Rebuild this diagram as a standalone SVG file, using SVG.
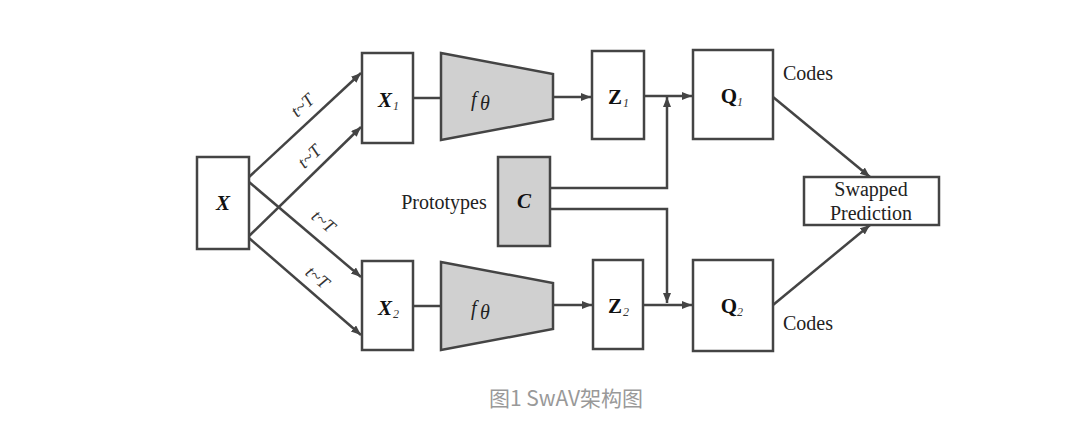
<svg xmlns="http://www.w3.org/2000/svg" width="1078" height="430" viewBox="0 0 1078 430">
<style>
.box{fill:#fff;stroke:#444;stroke-width:2.5}
.gray{fill:#d0d0d0;stroke:#444;stroke-width:2.5}
.ln{fill:none;stroke:#444;stroke-width:2.5}
.t{font-family:"Liberation Serif",serif;fill:#222;font-size:20px}
.m{font-family:"Liberation Serif",serif;fill:#111;font-size:21px;font-weight:bold}
.sub{font-family:"Liberation Serif",serif;fill:#333;font-size:12px;font-style:italic}
.lab{font-family:"Liberation Serif",serif;fill:#333;font-size:18px;font-style:italic}
</style>
<defs>
<marker id="ah" markerUnits="userSpaceOnUse" markerWidth="12" markerHeight="10" refX="10" refY="4" orient="auto">
<path d="M0,0 L10,4 L0,8 Z" fill="#444"/>
</marker>
</defs>
<rect width="1078" height="430" fill="#fff"/>
<g id="connectors">
<line class="ln" x1="249" y1="177" x2="361" y2="73" marker-end="url(#ah)"/>
<line class="ln" x1="249" y1="236" x2="361" y2="127" marker-end="url(#ah)"/>
<line class="ln" x1="249" y1="182" x2="361" y2="277" marker-end="url(#ah)"/>
<line class="ln" x1="249" y1="238" x2="361" y2="335" marker-end="url(#ah)"/>
<line class="ln" x1="413" y1="98" x2="441" y2="98"/>
<line class="ln" x1="553" y1="97" x2="591" y2="97" marker-end="url(#ah)"/>
<line class="ln" x1="644" y1="96" x2="692" y2="96" marker-end="url(#ah)"/>
<polyline class="ln" points="550,188 667,188 667,97" marker-end="url(#ah)"/>
<line class="ln" x1="413" y1="306" x2="441" y2="306"/>
<line class="ln" x1="553" y1="305" x2="592" y2="305" marker-end="url(#ah)"/>
<line class="ln" x1="643" y1="305" x2="692" y2="305" marker-end="url(#ah)"/>
<polyline class="ln" points="550,209 667,209 667,303" marker-end="url(#ah)"/>
<line class="ln" x1="773" y1="97" x2="870" y2="177" marker-end="url(#ah)"/>
<line class="ln" x1="773" y1="305" x2="870" y2="225" marker-end="url(#ah)"/>
<text class="lab" text-anchor="middle" transform="translate(303,106) rotate(-42)" dy="5">t~T</text>
<text class="lab" text-anchor="middle" transform="translate(310,157) rotate(-44)" dy="5">t~T</text>
<text class="lab" text-anchor="middle" transform="translate(323,222) rotate(40)" dy="5">t~T</text>
<text class="lab" text-anchor="middle" transform="translate(317,278) rotate(40)" dy="5">t~T</text>
</g>
<g id="node-x">
<rect class="box" x="197" y="157" width="52" height="92"/>
<text class="m" x="223" y="210" text-anchor="middle" font-style="italic">X</text>
</g>
<g id="node-x1">
<rect class="box" x="362" y="53" width="51" height="90"/>
<text class="m" x="385" y="107" text-anchor="middle" font-style="italic">X</text>
<text class="sub" x="393" y="110">1</text>
</g>
<g id="node-x2">
<rect class="box" x="362" y="261" width="51" height="89"/>
<text class="m" x="385" y="315" text-anchor="middle" font-style="italic">X</text>
<text class="sub" x="393" y="318">2</text>
</g>
<g id="node-f1">
<polygon class="gray" points="441,53 553,74 553,119 441,140"/>
<text class="t" x="471" y="106" font-style="italic" font-size="26" fill="#333">f</text>
<text class="t" x="480" y="110" font-style="italic" font-size="15" fill="#333">θ</text>
</g>
<g id="node-f2">
<polygon class="gray" points="441,262 553,283 553,329 441,350"/>
<text class="t" x="471" y="315" font-style="italic" font-size="26" fill="#333">f</text>
<text class="t" x="480" y="319" font-style="italic" font-size="15" fill="#333">θ</text>
</g>
<g id="node-z1">
<rect class="box" x="592" y="51" width="52" height="88"/>
<text class="m" x="615" y="104" text-anchor="middle">Z</text>
<text class="sub" x="623" y="107">1</text>
</g>
<g id="node-z2">
<rect class="box" x="593" y="260" width="50" height="89"/>
<text class="m" x="615" y="313" text-anchor="middle">Z</text>
<text class="sub" x="623" y="316">2</text>
</g>
<g id="node-q1">
<rect class="box" x="693" y="50" width="80" height="89"/>
<text class="m" x="729" y="103" text-anchor="middle">Q</text>
<text class="sub" x="737" y="106">1</text>
</g>
<g id="node-q2">
<rect class="box" x="693" y="260" width="80" height="91"/>
<text class="m" x="729" y="313" text-anchor="middle">Q</text>
<text class="sub" x="737" y="316">2</text>
</g>
<g id="node-c">
<rect class="gray" x="498" y="157" width="52" height="89"/>
<text class="m" x="524" y="208" text-anchor="middle" font-style="italic">C</text>
<text class="t" x="444" y="209" text-anchor="middle">Prototypes</text>
</g>
<g id="node-swap">
<rect class="box" x="804" y="177" width="135" height="48"/>
<text class="t" x="871" y="196" text-anchor="middle">Swapped</text>
<text class="t" x="871" y="220" text-anchor="middle">Prediction</text>
</g>
<text class="t" x="783" y="80">Codes</text>
<text class="t" x="783" y="330">Codes</text>
<text x="566" y="406" text-anchor="middle" font-family="'Noto Sans CJK SC',sans-serif" font-size="21" fill="#999">图1 SwAV架构图</text>
</svg>
